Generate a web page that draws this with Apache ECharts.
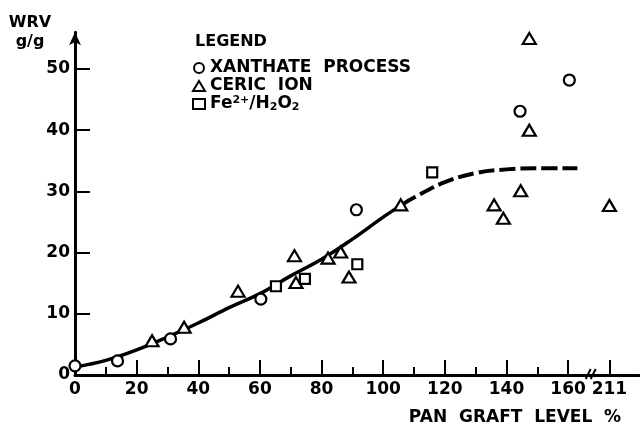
<!DOCTYPE html>
<html>
<head>
<meta charset="utf-8">
<script src="https://cdn.jsdelivr.net/npm/echarts@6/dist/echarts.min.js"></script>
<style>
html,body{margin:0;padding:0;background:#fff;}
#chart{width:640px;height:426px;}
</style>
</head>
<body>
<div id="chart"></div>
<script>
// ---- data ----
var xanthateX = [0, 13.8, 31, 60.3, 91.3, 144.4, 160.4];
var xanthateY = [1.5, 2.3, 5.9, 12.4, 27.0, 43.1, 48.2];
var cericX = [25, 35.4, 52.9, 71.2, 71.7, 82.1, 86.2, 88.9, 105.7, 136, 139, 144.6, 147.4, 147.4, 211];
var cericY = [5.6, 7.8, 13.7, 19.5, 15.1, 19.1, 20.1, 16.0, 27.8, 27.8, 25.6, 30.1, 40.0, 55.0, 27.7];
var fentonX = [65.2, 74.6, 91.6, 115.9];
var fentonY = [14.5, 15.7, 18.1, 33.1];
var curveSolidX = [0, 10, 20, 30, 40, 50, 60, 70, 80, 90, 100, 106];
var curveSolidY = [1.3, 2.4, 4.1, 6.2, 8.5, 11.0, 13.3, 16.2, 18.9, 22.2, 25.8, 27.8];
var curveDashX = [106, 110, 120, 130, 140, 150, 163];
var curveDashY = [27.8, 29.0, 31.5, 33.0, 33.6, 33.8, 33.8];
var xMajorTicks = [0, 20, 40, 60, 80, 100, 120, 140, 160];
var xMinorTicks = [10, 30, 50, 70, 90, 110, 130, 150];
var yTicks = [0, 10, 20, 30, 40, 50];
var breakValue = 211;      // value shown after the axis break
var breakPos = 173.4;      // where the break value sits on the compressed axis
var seriesNames = ['XANTHATE PROCESS', 'CERIC ION', 'Fe2+/H2O2'];

function axisPos(v) { return v > 165 ? breakPos : v; }
function pairs(xs, ys) { return xs.map(function (x, i) { return [axisPos(x), ys[i]]; }); }

var FONT = 'DejaVu Sans';
var chart = echarts.init(document.getElementById('chart'));
var markerStyle = { color: '#fff', borderColor: '#000', borderWidth: 2.2, opacity: 1 };

chart.setOption({
  animation: false,
  backgroundColor: '#fff',
  textStyle: { fontFamily: FONT },
  grid: { left: 75, right: 1, top: 32.3, bottom: 51 },
  xAxis: [{
    type: 'value', min: 0, max: 183,
    axisLine: { lineStyle: { color: '#000', width: 3 } },
    splitLine: { show: false },
    axisTick: { inside: true, length: 15, lineStyle: { color: '#000', width: 2 },
      customValues: xMajorTicks.concat([breakPos]) },
    axisLabel: { color: '#000', fontFamily: FONT, fontWeight: 'bold', fontSize: 17, margin: 6,
      customValues: xMajorTicks.concat([breakPos]),
      formatter: function (v) { return v > 165 ? String(breakValue) : String(v); } }
  }, {
    type: 'value', min: 0, max: 183, position: 'bottom',
    axisLine: { show: false }, splitLine: { show: false }, axisLabel: { show: false },
    axisTick: { inside: true, length: 8, lineStyle: { color: '#000', width: 2 },
      customValues: xMinorTicks }
  }],
  yAxis: {
    type: 'value', min: 0, max: 56,
    axisLine: { symbol: ['none', 'arrow'], symbolSize: [9, 13], lineStyle: { color: '#000', width: 3 } },
    splitLine: { show: false },
    axisTick: { inside: true, length: 15, lineStyle: { color: '#000', width: 2 }, customValues: yTicks.slice(1) },
    axisLabel: { color: '#000', fontFamily: FONT, fontWeight: 'bold', fontSize: 17, margin: 5, customValues: yTicks }
  },
  legend: {
    orient: 'vertical', left: 187, top: 54, itemWidth: 12, itemHeight: 10, itemGap: 0,
    data: seriesNames,
    itemStyle: { opacity: 1 },
    textStyle: { color: '#000', fontFamily: FONT, fontWeight: 'bold', fontSize: 17, lineHeight: 18,
      rich: {
        n: { fontFamily: FONT, fontWeight: 'bold', fontSize: 17, lineHeight: 18 },
        sup: { fontFamily: FONT, fontWeight: 'bold', fontSize: 11, lineHeight: 11, verticalAlign: 'top' },
        sub: { fontFamily: FONT, fontWeight: 'bold', fontSize: 11, lineHeight: 11, verticalAlign: 'bottom', padding: [6, 0, 0, 0] }
      } },
    formatter: function (name) {
      if (name === seriesNames[2]) return '{n|Fe}{sup|2+}{n|/H}{sub|2}{n|O}{sub|2}';
      if (name === seriesNames[1]) return 'CERIC  ION';
      return 'XANTHATE  PROCESS';
    }
  },
  title: { text: 'LEGEND', left: 190, top: 29, textStyle: { color: '#000', fontFamily: FONT, fontWeight: 'bold', fontSize: 16 } },
  series: [
    { type: 'line', data: pairs(curveSolidX, curveSolidY), smooth: 0.4, symbol: 'none', silent: true,
      lineStyle: { color: '#000', width: 3.5 }, z: 1 },
    { type: 'line', data: pairs(curveDashX, curveDashY), smooth: 0.4, symbol: 'none', silent: true,
      lineStyle: { color: '#000', width: 4, type: [16, 5] }, z: 1 },
    { name: seriesNames[0], type: 'scatter', symbol: 'circle', symbolSize: 11, clip: false,
      data: pairs(xanthateX, xanthateY), itemStyle: markerStyle, z: 3 },
    { name: seriesNames[1], type: 'scatter', symbol: 'triangle', symbolSize: [13, 11], clip: false,
      data: pairs(cericX, cericY), itemStyle: markerStyle, z: 3 },
    { name: seriesNames[2], type: 'scatter', symbol: 'rect', symbolSize: 10, clip: false,
      data: pairs(fentonX, fentonY), itemStyle: markerStyle, z: 3 }
  ]
});

// axis titles and break marks (decoration)
var p = chart.convertToPixel({ xAxisIndex: 0, yAxisIndex: 0 }, [167, 0]);
chart.setOption({
  graphic: [
    { type: 'text', x: 30, y: 23, style: { text: 'WRV', fill: '#000', font: 'bold 16px "DejaVu Sans"', align: 'center', verticalAlign: 'middle' } },
    { type: 'text', x: 30, y: 42, style: { text: 'g/g', fill: '#000', font: 'bold 16px "DejaVu Sans"', align: 'center', verticalAlign: 'middle' } },
    { type: 'text', x: 515, y: 418, style: { text: 'PAN  GRAFT  LEVEL  %', fill: '#000', font: 'bold 17px "DejaVu Sans"', align: 'center', verticalAlign: 'middle' } },
    { type: 'line', shape: { x1: p[0] - 4, y1: p[1] + 4, x2: p[0] + 1, y2: p[1] - 6 }, style: { stroke: '#000', lineWidth: 2 }, z: 10 },
    { type: 'line', shape: { x1: p[0] + 1, y1: p[1] + 4, x2: p[0] + 6, y2: p[1] - 6 }, style: { stroke: '#000', lineWidth: 2 }, z: 10 }
  ]
});
</script>
</body>
</html>
